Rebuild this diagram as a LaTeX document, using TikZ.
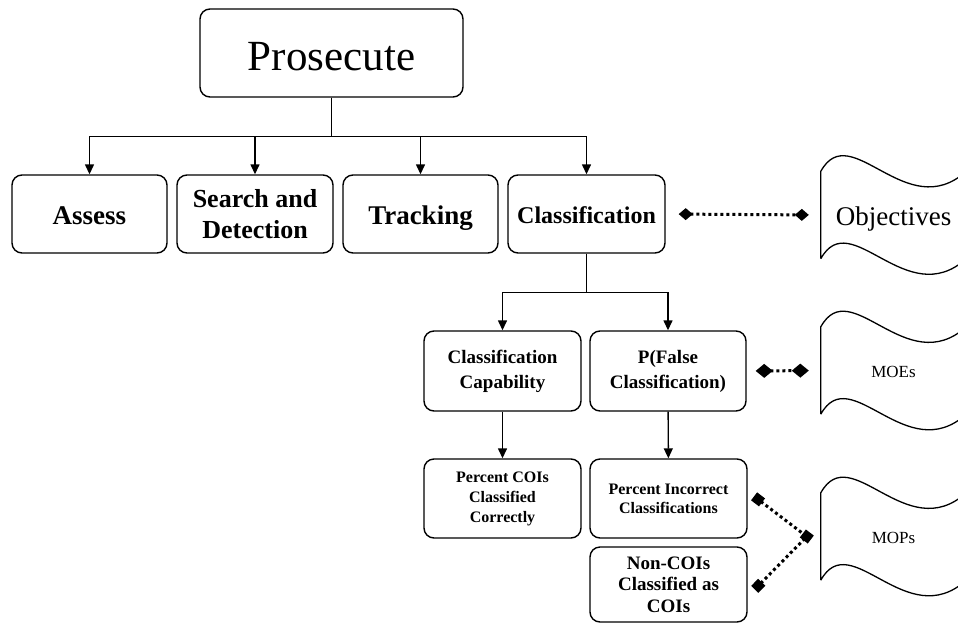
\documentclass[tikz,border=0pt]{standalone}
\usepackage{fontspec}
\setmainfont{Liberation Serif}
\usetikzlibrary{arrows.meta}

\newcommand{\fs}[2]{\fontsize{#1}{#2}\selectfont}
% wavy document outline round a doc node
\newcommand{\wavedoc}[1]{%
  \draw[line width=1.3pt] (#1.south west) -- (#1.north west)
    .. controls +(30,-54) and +(-60,54) .. (#1.north east)
    -- (#1.south east)
    .. controls +(-60,54) and +(30,-54) .. (#1.south west);}

\begin{document}
\begin{tikzpicture}[x=1pt, y=-1pt,
  box/.style={draw, line width=1.4pt, rounded corners=10pt, align=center,
              inner sep=2pt, font=\bfseries},
  oneline/.style={text height=#1, text depth=0pt},
  arr/.style={-{Triangle[length=10pt, width=9pt]}, line width=1.4pt},
  link/.style={line width=3pt, dash pattern=on 3pt off 3pt},
  doc/.style={inner sep=0pt, minimum width=145pt, minimum height=87pt}]
  \useasboundingbox (0,0) rectangle (958,624);
  \clip (0,0) rectangle (958,624);
  % Top
  \node[box, oneline=34pt, font=\fs{43}{48}, minimum width=263pt, minimum height=88pt]
        (pros) at (331.5,53) {Prosecute};
  % Functions
  \node[box, oneline=21.6pt, font=\bfseries\fs{27}{31}, minimum width=155pt, minimum height=78pt]
        (asse) at (89.5,214) {Assess};
  \node[box, font=\bfseries\fs{26}{31}, minimum width=156pt, minimum height=78pt]
        (srch) at (255,214) {Search and\\Detection};
  \node[box, oneline=21.6pt, font=\bfseries\fs{27}{31}, minimum width=155pt, minimum height=78pt]
        (trk) at (420.5,214) {Tracking};
  \node[box, oneline=19pt, font=\bfseries\fs{24}{28}, minimum width=157pt, minimum height=78pt]
        (cls) at (586.5,214) {Classification};
  % MOEs
  \node[box, font=\bfseries\fs{19}{25}, minimum width=157pt, minimum height=80pt]
        (cap) at (502.5,371) {Classification\\Capability};
  \node[box, font=\bfseries\fs{19}{25}, minimum width=156pt, minimum height=80pt]
        (pfc) at (668,371) {P(False\\Classification)};
  % MOPs
  \node[box, font=\bfseries\fs{16}{20}, minimum width=157pt, minimum height=79pt]
        (pcc) at (502.5,498.5) {Percent COIs\\Classified\\Correctly};
  \node[box, font=\bfseries\fs{16}{19}, minimum width=157pt, minimum height=79pt]
        (pic) at (668.5,498.5) {Percent Incorrect\\Classifications};
  \node[box, font=\bfseries\fs{19}{21.5}, minimum width=157pt, minimum height=75pt]
        (nonc) at (668.5,584.5) {Non-COIs\\Classified as\\COIs};
  % Documents
  \node[doc, oneline=21.6pt, font=\fs{27}{30}] (obj) at (893.5,215) {Objectives};
  \node[doc, oneline=13.6pt, font=\fs{17}{20}] (moe) at (893.5,370.5) {MOEs};
  \node[doc, oneline=13.6pt, font=\fs{17}{20}] (mop) at (893.5,536.5) {MOPs};
  \foreach \d in {obj, moe, mop}
    \wavedoc{\d};
  \coordinate (mj) at ([xshift=-14pt]mop.west);
  % Arrows
  \foreach \b in {asse, srch, trk, cls}
    \draw[arr] (pros.south) -- ++(0,39) -| (\b.north);
  \foreach \b in {cap, pfc}
    \draw[arr] (cls.south) -- ++(0,39) -| (\b.north);
  \foreach \a/\b in {cap/pcc, pfc/pic}
    \draw[arr] (\a) -- (\b);
  % Links
  \draw[link, {Diamond[length=14pt, width=12pt]}-{Diamond[length=14pt, width=12pt]},
        shorten <=13pt, shorten >=12pt] (cls.east) -- (obj.west);
  \draw[link, {Diamond[length=17pt, width=14pt]}-{Diamond[length=17pt, width=14pt]},
        shorten <=9pt, shorten >=12pt] (pfc.east) -- (moe.west);
  \draw[link, {Square[length=10pt, width=10pt]}-{Square[length=10pt, width=10pt]},
        shorten <=8pt, shorten >=-5pt] ([yshift=7pt]pic.east) -- (mj);
  \draw[link, {Square[length=10pt, width=10pt]}-,
        shorten <=10pt] ([yshift=-12pt]nonc.east) -- (mj);
\end{tikzpicture}
\end{document}
